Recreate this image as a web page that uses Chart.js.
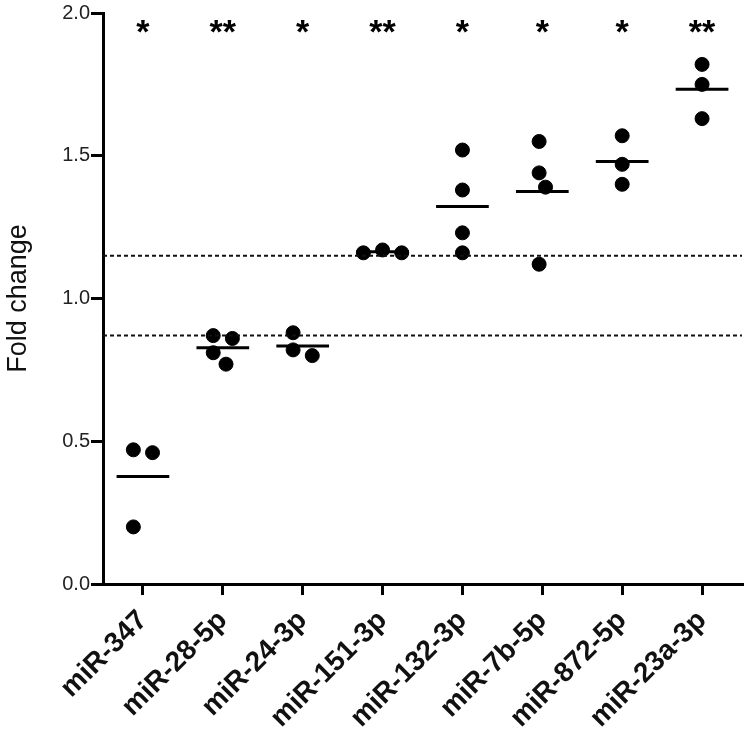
<!DOCTYPE html>
<html>
<head>
<meta charset="utf-8">
<script src="https://cdn.jsdelivr.net/npm/chart.js@4.4.0/dist/chart.umd.min.js"></script>
<style>
html, body { margin: 0; padding: 0; background: #fff; }
#wrap { width: 750px; height: 734px; }
</style>
</head>
<body>
<div id="wrap"><canvas id="foldChart"></canvas></div>
<script>
// fold change per replicate
var categories = ['miR-347', 'miR-28-5p', 'miR-24-3p', 'miR-151-3p', 'miR-132-3p', 'miR-7b-5p', 'miR-872-5p', 'miR-23a-3p'];
var replicates = [
    [0.47, 0.46, 0.20],
    [0.87, 0.86, 0.81, 0.77],
    [0.88, 0.82, 0.80],
    [1.17, 1.16, 1.16],
    [1.52, 1.38, 1.23, 1.16],
    [1.55, 1.44, 1.39, 1.12],
    [1.57, 1.47, 1.40],
    [1.82, 1.75, 1.63]
];
var stars = ['*', '**', '*', '**', '*', '*', '*', '**'];
var cutoffs = [0.87, 1.15];
var yTicks = [0, 0.5, 1.0, 1.5, 2.0];

var xMin = -0.5, xMax = 7.5;
var starLevel = 1.965;
var starSize = 34;

// simple beeswarm so overlapping dots get pushed sideways
function swarm(values, i) {
    var step = 0.08, pxX = 80, pxY = 285, dia = 15;
    var placed = [];
    values.forEach(function (v) {
        var order = [0, 1, -1, 2, -2, 3, -3, 4, -4];
        for (var k = 0; k < order.length; k++) {
            var off = order[k] * step;
            var hit = placed.some(function (p) {
                var dx = (off - p.off) * pxX, dy = (v - p.v) * pxY;
                return Math.sqrt(dx * dx + dy * dy) < dia;
            });
            if (!hit) { placed.push({ off: off, v: v }); break; }
        }
    });
    var offs = placed.map(function (p) { return p.off; });
    var mid = (Math.max.apply(null, offs) + Math.min.apply(null, offs)) / 2;
    return placed.map(function (p) { return { x: i + p.off - mid, y: p.v }; });
}

var dots = [];
replicates.forEach(function (vals, i) { dots = dots.concat(swarm(vals, i)); });

var meanSets = replicates.map(function (vals, i) {
    var m = vals.reduce(function (a, b) { return a + b; }, 0) / vals.length;
    return {
        type: 'line',
        data: [{ x: i - 0.33, y: m }, { x: i + 0.33, y: m }],
        borderColor: '#000',
        borderWidth: 3,
        pointRadius: 0,
        fill: false
    };
});

var cutoffSets = cutoffs.map(function (c) {
    return {
        type: 'line',
        data: [{ x: xMin, y: c }, { x: xMax, y: c }],
        borderColor: '#111',
        borderWidth: 2,
        borderDash: [4, 3],
        pointRadius: 0,
        fill: false
    };
});

var starPlugin = {
    id: 'stars',
    afterDatasetsDraw: function (chart) {
        var c = chart.ctx, xs = chart.scales.x, ys = chart.scales.y;
        c.save();
        c.fillStyle = '#000';
        c.font = 'bold ' + starSize + 'px "Liberation Sans", Arial, sans-serif';
        c.textAlign = 'center';
        c.textBaseline = 'alphabetic';
        stars.forEach(function (s, i) {
            c.fillText(s, xs.getPixelForValue(i), ys.getPixelForValue(starLevel) + starSize * 0.58);
        });
        c.restore();
    }
};

var ctx = document.getElementById('foldChart').getContext('2d');
var chart = new Chart(ctx, {
    type: 'scatter',
    data: {
        datasets: cutoffSets.concat(meanSets).concat([{
            data: dots,
            backgroundColor: '#000',
            borderColor: '#000',
            pointRadius: 7,
            pointHoverRadius: 7,
            clip: false
        }])
    },
    options: {
        responsive: true,
        maintainAspectRatio: false,
        animation: false,
        layout: { padding: { top: 5, right: 0, left: 0, bottom: 0 } },
        plugins: { legend: { display: false }, tooltip: { enabled: false } },
        scales: {
            x: {
                type: 'linear',
                min: xMin,
                max: xMax,
                afterBuildTicks: function (scale) {
                    scale.ticks = categories.map(function (c, i) { return { value: i }; });
                },
                afterFit: function (scale) { scale.height = 150; },
                ticks: {
                    autoSkip: false,
                    minRotation: 45,
                    maxRotation: 45,
                    padding: 9,
                    color: '#111',
                    font: { family: '"Liberation Sans", Arial, sans-serif', size: 28, weight: 'bold' },
                    callback: function (v) { return categories[v]; }
                },
                grid: { drawOnChartArea: false, drawTicks: true, tickLength: 11, lineWidth: 3, color: '#000' },
                border: { display: true, width: 3, color: '#000' }
            },
            y: {
                min: 0,
                max: 2,
                afterBuildTicks: function (scale) {
                    scale.ticks = yTicks.map(function (v) { return { value: v }; });
                },
                afterFit: function (scale) { scale.width = 103; },
                ticks: {
                    padding: 1,
                    color: '#222',
                    font: { family: '"Liberation Sans", Arial, sans-serif', size: 20 },
                    callback: function (v) { return v.toFixed(1); }
                },
                grid: { drawOnChartArea: false, drawTicks: true, tickLength: 12, lineWidth: 3, color: '#000' },
                border: { display: true, width: 3, color: '#000' },
                title: {
                    display: true,
                    text: 'Fold change',
                    color: '#111',
                    padding: { top: 2, bottom: 0 },
                    font: { family: '"Liberation Sans", Arial, sans-serif', size: 27 }
                }
            }
        }
    },
    plugins: [starPlugin]
});
</script>
</body>
</html>
